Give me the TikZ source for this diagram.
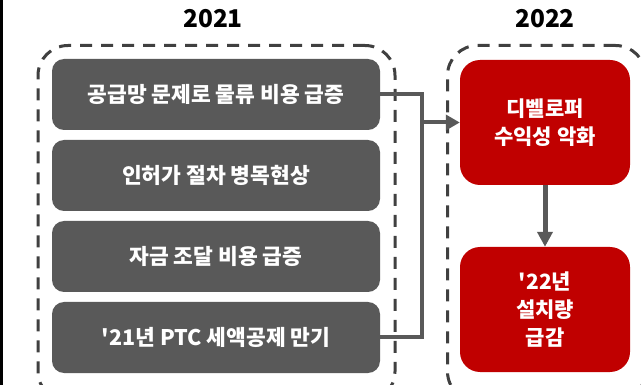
\documentclass[tikz,border=0pt]{standalone}
\usepackage{fontspec}
\setmainfont{Noto Sans CJK KR}[Ligatures=TeXOff]
\usetikzlibrary{arrows.meta,calc}
\definecolor{boxgray}{HTML}{595959}
\definecolor{dashgray}{HTML}{404040}
\definecolor{kred}{HTML}{C00000}
\begin{document}
\begin{tikzpicture}[x=1pt,y=-1pt,
  gbox/.style={fill=boxgray, rounded corners=12pt, minimum width=328pt, minimum height=71pt, text=white, font=\bfseries\fontsize{21.5}{28}\selectfont, inner sep=0pt},
  rbox/.style={fill=kred, rounded corners=20pt, minimum width=170pt, minimum height=125pt, text=white, font=\bfseries\fontsize{21}{28}\selectfont, align=center, inner sep=0pt},
  frame/.style={draw=dashgray, line width=3pt, dash pattern=on 12pt off 9pt, rounded corners=30pt, inner sep=0pt},
  conn/.style={draw=boxgray, line width=4pt},
  yr/.style={font=\bfseries\fontsize{24.5}{28}\selectfont, inner sep=0pt}]
\useasboundingbox (0,0) rectangle (641,385);
\clip (0,0) rectangle (641,385);
\fill[white] (0,0) rectangle (641,385);
\fill[black] (0,0) rectangle (3,385);
% year labels
\node[yr, anchor=base] (y1) at (213,28) {2021};
\node[yr, anchor=base] (y2) at (545,28) {2022};
% dashed frames
\node[frame, minimum width=357pt, minimum height=356pt, anchor=north west] (f1) at (36.5,44) {};
\node[frame, minimum width=198pt, minimum height=356pt, anchor=north west] (f2) at (446,44) {};
% gray boxes
\node[gbox] (g1) at (216,94.5) {공급망 문제로 물류 비용 급증};
\node[gbox] (g2) at (216,175.5) {인허가 절차 병목현상};
\node[gbox] (g3) at (216,256.5) {자금 조달 비용 급증};
\node[gbox] (g4) at (216,337.5) {'21년 PTC 세액공제 만기};
% red boxes
\node[rbox] (r1) at (545,122.5) {디벨로퍼\\수익성 악화};
\node[rbox] (r2) at (545,309.5) {'22년\\설치량\\급감};
% connectors
\path (g1.east) ++(42,0) coordinate (jt);
\draw[conn, line join=miter] (g1.east) -- (jt) |- (g4.east);
\draw[conn, -{Triangle[length=14pt,width=15pt]}] (jt |- r1.west) -- (r1.west);
\draw[conn, line width=5pt, -{Triangle[length=15pt,width=15pt]}] (r1.south) -- (r2.north);
\end{tikzpicture}
\end{document}
